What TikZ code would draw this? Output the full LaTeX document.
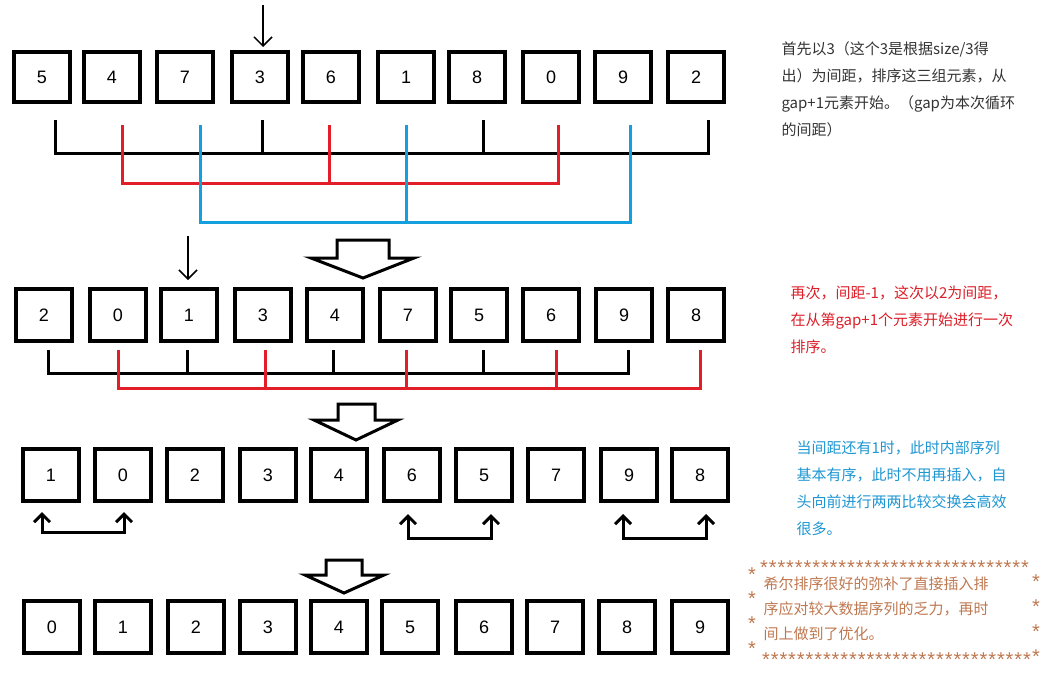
\documentclass[tikz,border=0pt]{standalone}
\usepackage{fontspec}
\setmainfont{Liberation Sans}
\newfontfamily\cjk{Noto Sans CJK SC}
\usetikzlibrary{arrows.meta}
\definecolor{myred}{RGB}{226,30,40}
\definecolor{myblue}{RGB}{20,160,220}
\definecolor{txtred}{RGB}{220,30,40}
\definecolor{txtblue}{RGB}{30,150,210}
\definecolor{txtbrown}{RGB}{190,120,80}
\begin{document}
\begin{tikzpicture}[x=1pt,y=-1pt,line width=3pt,
  cell/.style={draw,line width=3.2pt,minimum width=56pt,minimum height=50pt,inner sep=0pt,font=\fontsize{18}{18}\selectfont},
  hollow/.style={draw,line width=3pt,fill=white,line join=miter},
  pointer/.style={line width=1.5pt,-{Straight Barb[length=9pt,width=18pt,line width=1.5pt]}},
  swap/.style={line width=3pt,{Straight Barb[length=8pt,width=16pt]}-{Straight Barb[length=8pt,width=16pt]}},
  note/.style={align=left,anchor=north west,inner sep=0pt,font=\cjk\fontsize{15}{27}\selectfont},
  staritem/.style={inner sep=0pt,anchor=north,text=txtbrown,font=\fontsize{20}{20}\selectfont}]
\useasboundingbox (0,0) rectangle (1060,672);
% row 1
\foreach \x/\v [count=\i] in {42/5,112/4,185/7,260/3,331/6,406/1,477/8,551/0,623/9,696/2}
  \node[cell] (a\i) at (\x,77) {\v};
\draw[pointer] (263,5) -- (263,47);
\draw (55,120) -- (55,153) -- (708,153) -- (708,120);
\draw (262,120) -- (262,153); \draw (483,120) -- (483,153);
\draw[myred] (122,125) -- (122,183) -- (558,183) -- (558,125);
\draw[myred] (329,125) -- (329,183);
\draw[myblue] (200,125) -- (200,222) -- (630,222) -- (630,125);
\draw[myblue] (406,125) -- (406,222);
\draw[hollow] (337,240) -- (389,240) -- (389,258) -- (414,258) -- (363,278) -- (311,258) -- (337,258) -- cycle;
% row 2
\foreach \x/\v [count=\i] in {44/2,118/0,189/1,263/3,335/4,408/7,479/5,551/6,624/9,696/8}
  \node[cell,minimum height=52pt] (b\i) at (\x,315) {\v};
\draw[pointer] (188,236) -- (188,280);
\draw (48,350) -- (48,373) -- (628,373) -- (628,350);
\foreach \x in {187,333,483} \draw (\x,350) -- (\x,373);
\draw[myred] (118,350) -- (118,388) -- (700,388) -- (700,350);
\foreach \x in {265,406,556} \draw[myred] (\x,350) -- (\x,388);
\draw[hollow] (338,404) -- (375,404) -- (375,420) -- (398,420) -- (356,440) -- (314,420) -- (338,420) -- cycle;
% row 3
\foreach \x/\v [count=\i] in {51/1,123/0,195/2,268/3,339/4,412/6,484/5,556/7,629/9,700/8}
  \node[cell,minimum height=52pt] (c\i) at (\x,475) {\v};
\draw[swap] (42,512) -- (42,532) -- (124,532) -- (124,512);
\draw[swap] (408,514) -- (408,538) -- (491,538) -- (491,514);
\draw[swap] (623,514) -- (623,538) -- (706,538) -- (706,514);
\draw[hollow] (326,560) -- (362,560) -- (362,575) -- (384,575) -- (344,593) -- (305,575) -- (326,575) -- cycle;
% row 4
\foreach \x/\v [count=\i] in {52/0,123/1,196/2,268/3,339/4,410/5,484/6,555/7,627/8,700/9}
  \node[cell,minimum height=52pt] (d\i) at (\x,627) {\v};
% notes
\node[note,text=black!80] (n1) at (780,40) {首先以3（这个3是根据size/3得\\出）为间距，排序这三组元素，从\\gap+1元素开始。（gap为本次循环\\的间距）};
\node[note,text=txtred] (n2) at (789,284) {再次，间距-1，这次以2为间距，\\在从第gap+1个元素开始进行一次\\排序。};
\node[note,text=txtblue] (n3) at (795,439) {当间距还有1时，此时内部序列\\基本有序，此时不用再插入，自\\头向前进行两两比较交换会高效\\很多。};
\node[note,text=txtbrown,font=\cjk\fontsize{15}{25}\selectfont] (n4) at (762,575) {希尔排序很好的弥补了直接插入排\\序应对较大数据序列的乏力，再时\\间上做到了优化。};
\foreach \i in {0,...,30} {
  \node[staritem] (st\i) at ({764+8.7*\i},559) {*};
  \node[staritem] (sb\i) at ({766+8.7*\i},651) {*};
}
\foreach \y [count=\i] in {566,590,615,640} \node[staritem] (l\i) at (752,\y) {*};
\foreach \y [count=\i] in {573,598,623,648} \node[staritem] (r\i) at (1036,\y) {*};
\end{tikzpicture}
\end{document}
